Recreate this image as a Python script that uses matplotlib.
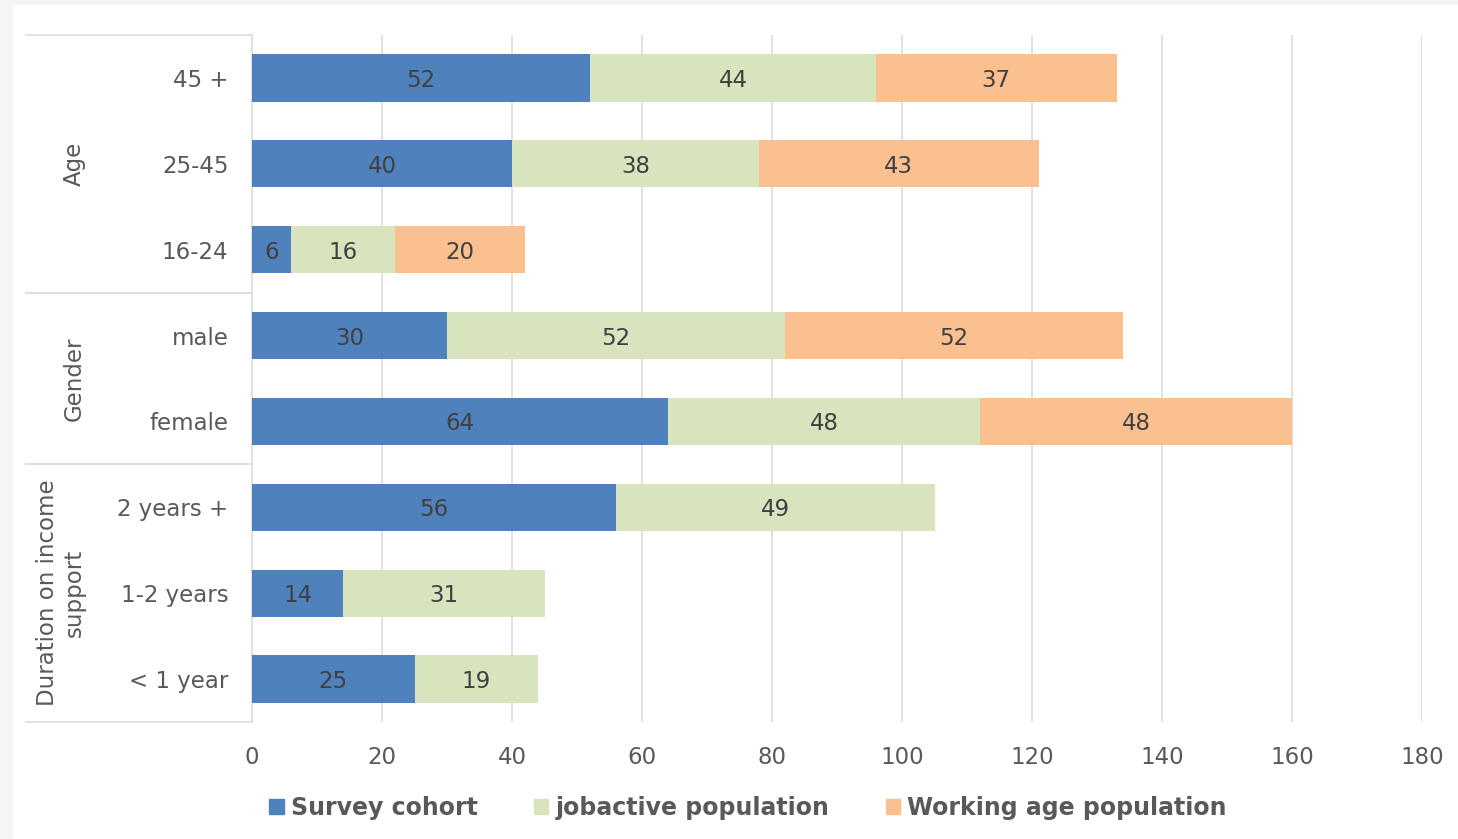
import matplotlib.pyplot as plt
import matplotlib.patches as mpatches
import matplotlib.transforms as mtransforms
import numpy as np

categories = ["45 +", "25-45", "16-24", "male", "female", "2 years +", "1-2 years", "< 1 year"]
survey_cohort = [52, 40, 6, 30, 64, 56, 14, 25]
jobactive_pop = [44, 38, 16, 52, 48, 49, 31, 19]
working_age_pop = [37, 43, 20, 52, 48, 0, 0, 0]
series_names = ["Survey cohort", "jobactive population", "Working age population"]
colors = ["#4f81bd", "#d7e4bd", "#fac090"]

groups = ["Age", "Gender", "Duration on income\nsupport"]
group_spans = [(0, 2), (3, 4), (5, 7)]

plt.rcParams['font.family'] = ['DejaVu Sans']
text_col = "#595959"
grid_col = "#dedede"

fig = plt.figure(figsize=(14.58, 8.39), dpi=100)
fig.patch.set_facecolor("#f4f6f5")
bg = mpatches.Rectangle((13 / 1458, 0), 1, 1 - 5 / 839, transform=fig.transFigure,
                        facecolor="white", edgecolor="none", zorder=-10)
fig.add_artist(bg)

ax = fig.add_axes([252 / 1458, 1 - 722 / 839, 1170 / 1458, 687 / 839])
ax.set_facecolor("none")

y = np.arange(len(categories))
left = np.zeros(len(categories))
for vals, name, col in zip([survey_cohort, jobactive_pop, working_age_pop], series_names, colors):
    vals = np.array(vals, dtype=float)
    bars = ax.barh(y, vals, left=left, height=0.55, color=col, label=name, zorder=3)
    for b, v in zip(bars, vals):
        if v > 0:
            ax.text(b.get_x() + b.get_width() / 2, b.get_y() + b.get_height() / 2, f"{v:.0f}",
                    ha="center", va="center_baseline", fontsize=16.5, color="#404040", zorder=4)
    left += vals

ax.set_xlim(0, 180)
ax.set_ylim(len(categories) - 0.5, -0.5)
ax.set_xticks(range(0, 181, 20))
ax.set_yticks(y)
ax.set_yticklabels(categories)
ax.tick_params(axis="both", length=0, labelsize=16.5, labelcolor=text_col)
ax.tick_params(axis="y", pad=17)
ax.tick_params(axis="x", pad=17)
ax.grid(axis="x", color=grid_col, linewidth=1.3, zorder=0)
for s in ["top", "right", "bottom"]:
    ax.spines[s].set_visible(False)
ax.spines["left"].set_color(grid_col)
ax.spines["left"].set_linewidth(1.3)

# group boxes on the left
trans = mtransforms.blended_transform_factory(ax.transAxes, ax.transData)
x0 = -226 / 1170
for lo, hi in group_spans:
    for yy in (lo - 0.5, hi + 0.5):
        ax.plot([x0, 0], [yy, yy], color=grid_col, linewidth=1.3, transform=trans, clip_on=False)
for g, (lo, hi) in zip(groups, group_spans):
    xc = -178 / 1170 if "\n" not in g else -191 / 1170
    ax.text(xc, (lo + hi) / 2, g, rotation=90, ha="center", va="center", fontsize=16.5,
            color=text_col, transform=trans, linespacing=1.2)

handles = [mpatches.Patch(color=c) for c in colors]
fig.legend(handles, series_names, loc="center", bbox_to_anchor=(748 / 1458, 1 - 808 / 839), ncol=3,
           frameon=False, handlelength=0.6, handleheight=0.6, handletextpad=0.3, columnspacing=2.4,
           prop={"weight": "bold", "size": 17}, labelcolor=text_col)

fig.savefig("out.png", dpi=100, facecolor=fig.get_facecolor())
